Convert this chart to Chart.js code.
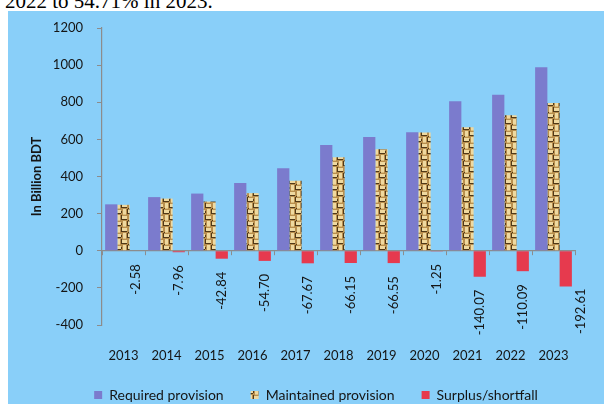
<!DOCTYPE html>
<html>
<head>
<meta charset="utf-8">
<script src="https://cdn.jsdelivr.net/npm/chart.js@4.4.1/dist/chart.umd.min.js"></script>
<style>
  body { margin: 0; background: #fff; width: 604px; height: 404px; overflow: hidden; position: relative; }
  .lead { position: absolute; left: 5px; top: -9px; font: 21px/21px "Liberation Serif", "Times New Roman", serif; color: #000; white-space: nowrap; }
  .box { position: absolute; left: 8px; top: 11px; width: 596px; height: 393px; background: #89cff9; }
</style>
</head>
<body>
<div class="lead">2022 to 54.71% in 2023.</div>
<div class="box"><canvas id="provChart"></canvas></div>
<script>
const years = ['2013', '2014', '2015', '2016', '2017', '2018', '2019', '2020', '2021', '2022', '2023'];
const required = [250, 289, 308, 365, 445, 570, 613, 638, 806, 840, 988];
const maintained = [247.42, 281.04, 265.16, 310.30, 377.33, 503.85, 546.45, 636.75, 665.93, 729.91, 795.39];
const surplus = [-2.58, -7.96, -42.84, -54.70, -67.67, -66.15, -66.55, -1.25, -140.07, -110.09, -192.61];
const yTicks = [-400, -200, 0, 200, 400, 600, 800, 1000, 1200];

const axisGrey = '#8c8c8c';
const ink = '#151515';
Chart.defaults.font.family = 'Lato, "Open Sans", sans-serif';
Chart.defaults.font.size = 13;
Chart.defaults.color = ink;

// woven texture for the maintained bars
function wovenPattern() {
  const pc = document.createElement('canvas');
  pc.width = 12; pc.height = 12;
  const g = pc.getContext('2d');
  g.fillStyle = '#b98f4e'; g.fillRect(0, 0, 12, 12);
  g.fillStyle = '#efd9a0';
  g.fillRect(1, 0, 3, 5); g.fillRect(7, 6, 3, 5);
  g.fillRect(6, 1, 5, 3); g.fillRect(0, 7, 5, 3);
  g.fillStyle = '#dcbd7c';
  g.fillRect(1, 5, 3, 1); g.fillRect(7, 11, 3, 1);
  g.fillStyle = '#4f3818';
  g.fillRect(0, 5, 1, 1); g.fillRect(5, 0, 1, 5); g.fillRect(11, 6, 1, 5);
  g.fillRect(6, 4, 5, 1); g.fillRect(0, 10, 5, 1); g.fillRect(5, 8, 1, 2);
  return g.createPattern(pc, 'repeat');
}
const ctx = document.getElementById('provChart').getContext('2d');

// values under the red bars, rotated
const surplusLabels = {
  id: 'surplusLabels',
  afterDatasetsDraw(chart) {
    const c = chart.ctx;
    const bars = chart.getDatasetMeta(2).data;
    c.save();
    c.font = '13px Lato, "Open Sans", sans-serif';
    c.fillStyle = ink;
    c.textAlign = 'right';
    c.textBaseline = 'middle';
    bars.forEach((bar, i) => {
      c.save();
      if (i === bars.length - 1) c.translate(bar.x + bar.width / 2 + 9, bar.y + 2);
      else c.translate(bar.x, bar.y + 13);
      c.rotate(-Math.PI / 2);
      c.fillText(surplus[i].toFixed(2), 0, 0);
      c.restore();
    });
    c.restore();
  }
};

// nudge the legend row a little right and up (bottom edge stays, so nothing is clipped)
const legendNudge = {
  id: 'legendNudge',
  afterLayout(chart) {
    const lg = chart.legend;
    lg.left += 14; lg.right += 14;
    lg.top -= 4;
  }
};

new Chart(ctx, {
  type: 'bar',
  data: {
    labels: years,
    datasets: [
      { label: 'Required provision', data: required, backgroundColor: '#7b7bcd' },
      { label: 'Maintained provision', data: maintained, backgroundColor: wovenPattern() },
      { label: 'Surplus/shortfall', data: surplus, backgroundColor: '#e63a4e' }
    ]
  },
  options: {
    responsive: true,
    maintainAspectRatio: false,
    animation: false,
    categoryPercentage: 0.855,
    barPercentage: 1,
    layout: { padding: { left: 21, top: 17, right: 29, bottom: 0 } },
    plugins: {
      tooltip: { enabled: false },
      legend: {
        position: 'bottom',
        maxHeight: 39,
        labels: { boxWidth: 8, boxHeight: 8, padding: 27, color: ink, font: { size: 14 } }
      }
    },
    scales: {
      x: {
        position: 'bottom',
        grid: { display: false, drawTicks: false },
        border: { display: false },
        ticks: { padding: 23, color: ink, maxRotation: 0 },
        afterFit(scale) { scale.height = 40; }
      },
      xZero: {
        axis: 'x',
        type: 'category',
        labels: years,
        position: { y: 0 },
        offset: true,
        grid: { offset: true, drawOnChartArea: false, drawTicks: true, tickLength: 4, color: axisGrey },
        border: { display: true, color: axisGrey, width: 1.2 },
        ticks: { display: false }
      },
      y: {
        min: yTicks[0],
        max: yTicks[yTicks.length - 1],
        afterBuildTicks(scale) { scale.ticks = yTicks.map(v => ({ value: v })); },
        grid: { drawOnChartArea: false, tickLength: 5, color: axisGrey },
        border: { color: axisGrey, width: 1.2 },
        ticks: { padding: 14, color: ink, callback: v => String(v) },
        title: {
          display: true,
          text: 'In Billion BDT',
          color: ink,
          padding: { top: 0, bottom: 0 },
          font: { weight: 'bold', size: 13 }
        },
        afterFit(scale) {
          scale.width = 73;
          scale.paddingTop = 8;
          scale.paddingBottom = 8;
        }
      }
    }
  },
  plugins: [surplusLabels, legendNudge]
});
</script>
</body>
</html>
